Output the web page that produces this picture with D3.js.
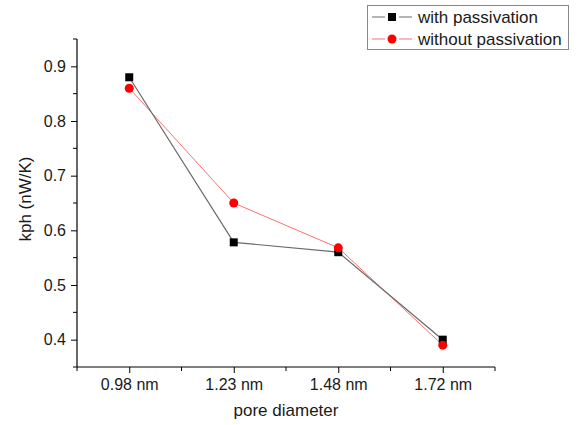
<!DOCTYPE html>
<html>
<head>
<meta charset="utf-8">
<script src="https://cdn.jsdelivr.net/npm/d3@7"></script>
<style>
  body { margin: 0; background: #fff; }
  text { font-family: "Liberation Sans", Arial, sans-serif; fill: #1a1a1a; }
</style>
</head>
<body>
<div id="canvas"></div>
<script>
// pore diameters on the x axis
var categories = ["0.98 nm", "1.23 nm", "1.48 nm", "1.72 nm"];
var withPassivation = [0.88, 0.578, 0.56, 0.40];
var withoutPassivation = [0.86, 0.65, 0.568, 0.39];
var yTicks = [0.4, 0.5, 0.6, 0.7, 0.8, 0.9];
var seriesNames = ["with passivation", "without passivation"];

var width = 582, height = 425;
var plotLeft = 77, plotRight = 495, plotTop = 39, plotBottom = 367;

var svg = d3.select("#canvas").append("svg")
    .attr("width", width)
    .attr("height", height);

var x = d3.scaleLinear().domain([-0.5, 3.5]).range([plotLeft, plotRight]);
var y = d3.scaleLinear().domain([0.35, 0.95]).range([plotBottom, plotTop]);

// x axis: major ticks at categories, minor ticks between
var xMinor = d3.range(-0.5, 4, 1);
var xAxis = d3.axisBottom(x)
    .tickValues(d3.range(categories.length))
    .tickFormat(function(i) { return categories[i]; })
    .tickSize(6)
    .tickPadding(6);
var gx = svg.append("g").attr("transform", "translate(0," + plotBottom + ")").call(xAxis);
gx.select(".domain").attr("d", "M" + plotLeft + ",0H" + plotRight);
gx.selectAll("text").style("font-size", "16px");
gx.selectAll(".minor").data(xMinor).enter().append("line")
    .attr("x1", function(d) { return x(d); })
    .attr("x2", function(d) { return x(d); })
    .attr("y1", 0).attr("y2", 4)
    .attr("stroke", "#000");

// y axis
var yMinor = d3.range(0.35, 0.96, 0.1);
var yAxis = d3.axisLeft(y)
    .tickValues(yTicks)
    .tickFormat(d3.format(".1f"))
    .tickSize(6)
    .tickPadding(5);
var gy = svg.append("g").attr("transform", "translate(" + plotLeft + ",0)").call(yAxis);
gy.select(".domain").attr("d", "M0," + plotTop + "V" + plotBottom);
gy.selectAll("text").style("font-size", "16px");
gy.selectAll(".minor").data(yMinor).enter().append("line")
    .attr("y1", function(d) { return y(d); })
    .attr("y2", function(d) { return y(d); })
    .attr("x1", 0).attr("x2", -4)
    .attr("stroke", "#000");

svg.selectAll(".domain").attr("stroke", "#000").attr("stroke-width", 1.2);

// axis titles
svg.append("text")
    .attr("x", (plotLeft + plotRight) / 2)
    .attr("y", 416)
    .attr("text-anchor", "middle")
    .style("font-size", "17px")
    .text("pore diameter");

svg.append("text")
    .attr("transform", "translate(31,199) rotate(-90)")
    .attr("text-anchor", "middle")
    .style("font-size", "17px")
    .text("kph (nW/K)");

var line = d3.line()
    .x(function(d, i) { return x(i); })
    .y(function(d) { return y(d); });

// red series
svg.append("path")
    .datum(withoutPassivation)
    .attr("d", line)
    .attr("fill", "none")
    .attr("stroke", "#ff7070")
    .attr("stroke-width", 1);

// black series
svg.append("path")
    .datum(withPassivation)
    .attr("d", line)
    .attr("fill", "none")
    .attr("stroke", "#6a6a6a")
    .attr("stroke-width", 1.2);

svg.selectAll(".sq").data(withPassivation).enter().append("rect")
    .attr("x", function(d, i) { return x(i) - 4; })
    .attr("y", function(d) { return y(d) - 4; })
    .attr("width", 8)
    .attr("height", 8)
    .attr("fill", "#000");

svg.selectAll(".dot").data(withoutPassivation).enter().append("circle")
    .attr("cx", function(d, i) { return x(i); })
    .attr("cy", function(d) { return y(d); })
    .attr("r", 4.5)
    .attr("fill", "#ff0000");

// legend
var legend = svg.append("g");
legend.append("rect")
    .attr("x", 367.5).attr("y", 5.5)
    .attr("width", 201).attr("height", 44)
    .attr("fill", "#fff")
    .attr("stroke", "#888");

var rows = legend.selectAll(".row").data(seriesNames).enter().append("g")
    .attr("transform", function(d, i) { return "translate(0," + (17 + i * 22) + ")"; });

// line sample with a gap round the marker
[[372, 385], [399, 412]].forEach(function(seg) {
  rows.append("line")
      .attr("x1", seg[0]).attr("x2", seg[1])
      .attr("y1", 0).attr("y2", 0)
      .attr("stroke", function(d, i) { return i === 0 ? "#6a6a6a" : "#ff7070"; });
});

rows.filter(function(d, i) { return i === 0; }).append("rect")
    .attr("x", 388).attr("y", -4).attr("width", 8).attr("height", 8)
    .attr("fill", "#000");

rows.filter(function(d, i) { return i === 1; }).append("circle")
    .attr("cx", 392).attr("cy", 0).attr("r", 4.5)
    .attr("fill", "#ff0000");

rows.append("text")
    .attr("x", 418).attr("y", 6)
    .style("font-size", "17px")
    .text(function(d) { return d; });
</script>
</body>
</html>
